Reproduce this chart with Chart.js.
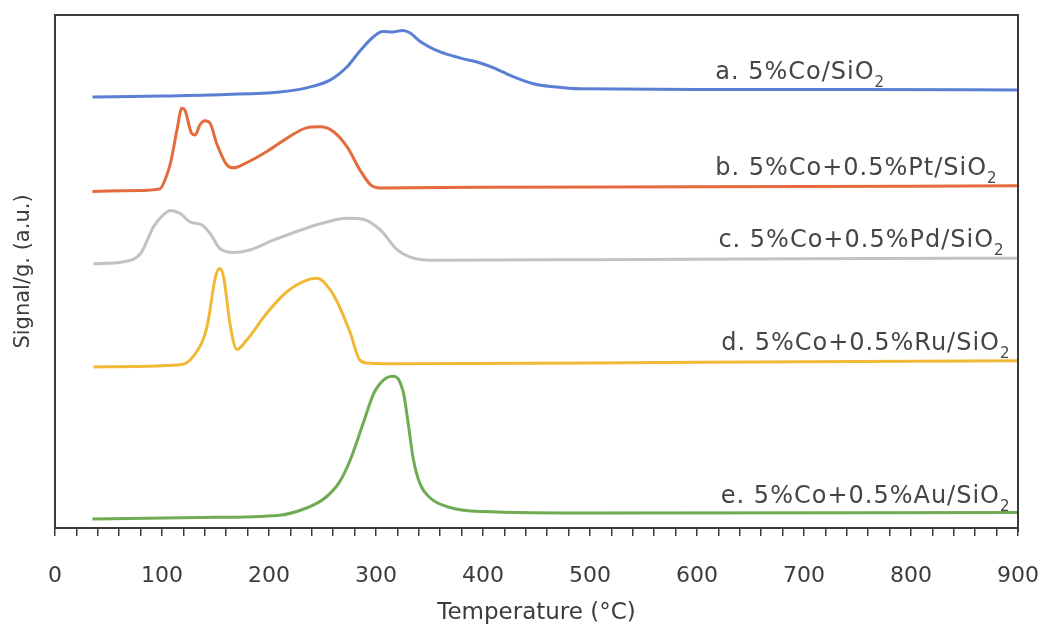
<!DOCTYPE html>
<html>
<head>
<meta charset="utf-8">
<title>TPR profiles</title>
<script src="https://cdn.jsdelivr.net/npm/chart.js@4"></script>
<style>
  html, body { margin: 0; padding: 0; background: #fff; }
  #wrap { width: 1043px; height: 629px; position: relative; }
</style>
</head>
<body>
<div id="wrap"><canvas id="tpr"></canvas></div>
<script>
(function () {
  "use strict";

  /* ── temperature (°C) and signal readings, one pair of arrays per catalyst ── */
  const tempCo = [35, 100, 160, 210, 235, 257, 273, 285, 299, 306, 316, 325, 332, 341, 360, 379, 398, 410, 428, 447, 466, 491, 600, 750, 900];
  const sigCo  = [84.0, 84.2, 84.5, 85.0, 85.8, 87.3, 89.9, 93.0, 96.0, 96.8, 96.7, 97.0, 96.5, 94.9, 92.8, 91.6, 90.6, 89.7, 88.0, 86.6, 86.0, 85.6, 85.5, 85.5, 85.4];

  const tempPt = [35, 80, 98, 104, 108, 114, 118.5, 121.5, 127.5, 131, 135.5, 140, 145, 151, 160.5, 167, 179, 198, 217, 235, 248, 260, 273, 285, 295, 304, 400, 600, 900];
  const sigPt  = [65.6, 65.8, 66.1, 68.5, 71.2, 77.6, 81.8, 81.4, 77.0, 76.6, 78.6, 79.4, 78.9, 75.0, 70.8, 70.2, 71.2, 73.4, 76.0, 78.0, 78.2, 77.3, 74.3, 69.8, 66.9, 66.3, 66.4, 66.5, 66.7];

  const tempPd = [36, 64, 80, 92, 100, 108, 117, 126, 137, 145, 154, 167, 182, 204, 226, 248, 273, 288, 304, 320, 332, 351, 500, 700, 900];
  const sigPd  = [51.5, 51.9, 53.5, 58.7, 60.8, 61.9, 61.3, 59.7, 59.1, 57.4, 54.5, 53.7, 54.2, 56.1, 57.8, 59.3, 60.4, 60.2, 58.1, 54.2, 52.8, 52.2, 52.3, 52.5, 52.6];

  const tempRu = [36, 117, 129, 142, 150, 154, 157.5, 164, 170, 179, 198, 217, 238, 245, 251, 263, 276, 285, 295, 323, 600, 900];
  const sigRu  = [31.4, 31.8, 33.4, 39.2, 49.0, 50.6, 49.0, 39.2, 34.8, 36.6, 41.9, 46.1, 48.5, 48.7, 48.0, 44.4, 38.0, 32.7, 32.1, 32.0, 32.3, 32.6];

  const tempAu = [35, 136, 210, 235, 252, 266, 276, 288, 298, 304, 310, 316, 321, 326, 330, 335, 341, 351, 366, 398, 510, 900];
  const sigAu  = [1.75, 2.05, 2.5, 3.9, 5.8, 9.0, 13.3, 20.4, 26.3, 28.2, 29.3, 29.6, 29.0, 26.0, 20.5, 13.3, 8.7, 5.8, 4.2, 3.2, 2.9, 3.0];

  const seriesNames = ["a. 5%Co/SiO", "b. 5%Co+0.5%Pt/SiO", "c. 5%Co+0.5%Pd/SiO", "d. 5%Co+0.5%Ru/SiO", "e. 5%Co+0.5%Au/SiO"];
  const xTicks = [0, 100, 200, 300, 400, 500, 600, 700, 800, 900];

  const COLORS = ["#5a7fd3", "#e36b3d", "#c2c2c2", "#f0b935", "#6fab52"];
  const FONT = "'DejaVu Sans', sans-serif";
  const AXIS = "#3a3a3a";

  function pairs(xs, ys) {
    return xs.map(function (x, i) { return { x: x, y: ys[i] }; });
  }

  function line(label, xs, ys, color) {
    return {
      label: label,
      data: pairs(xs, ys),
      borderColor: color,
      borderWidth: 3,
      pointRadius: 0,
      fill: false,
      cubicInterpolationMode: "monotone",
    };
  }

  /* ── in-plot curve labels, each ending in a subscript "2" ── */
  const labelPlacement = [
    { t: 617, v: 87.5, align: "left" },
    { t: 617, v: 68.8, align: "left" },
    { t: 620, v: 54.8, align: "left" },
    { t: 893, v: 34.7, align: "right" },
    { t: 893, v: 4.9, align: "right" },
  ];

  const curveLabels = {
    id: "curveLabels",
    afterDatasetsDraw: function (chart) {
      const ctx = chart.ctx;
      const xs = chart.scales.x, ys = chart.scales.y;
      ctx.save();
      ctx.fillStyle = "#454545";
      ctx.textBaseline = "alphabetic";
      ctx.textAlign = "left";
      if ("letterSpacing" in ctx) ctx.letterSpacing = "1px";
      seriesNames.forEach(function (name, i) {
        const p = labelPlacement[i];
        ctx.font = "24px " + FONT;
        const wMain = ctx.measureText(name).width;
        ctx.font = "15px " + FONT;
        const wSub = ctx.measureText("2").width;
        let x = xs.getPixelForValue(p.t);
        const y = ys.getPixelForValue(p.v);
        if (p.align === "right") x -= wMain + wSub;
        ctx.font = "24px " + FONT;
        ctx.fillText(name, x, y);
        ctx.font = "15px " + FONT;
        ctx.fillText("2", x + wMain, y + 8);
      });
      ctx.restore();
    },
  };

  /* ── closes the plot box on the top and right ── */
  const frame = {
    id: "frame",
    afterDraw: function (chart) {
      const a = chart.chartArea, ctx = chart.ctx;
      ctx.save();
      ctx.strokeStyle = AXIS;
      ctx.lineWidth = 2;
      ctx.beginPath();
      ctx.moveTo(a.left, a.top);
      ctx.lineTo(a.right, a.top);
      ctx.lineTo(a.right, a.bottom + 4);
      ctx.stroke();
      ctx.restore();
    },
  };

  new Chart(document.getElementById("tpr").getContext("2d"), {
    type: "line",
    data: {
      datasets: [
        line(seriesNames[0], tempCo, sigCo, COLORS[0]),
        line(seriesNames[1], tempPt, sigPt, COLORS[1]),
        line(seriesNames[2], tempPd, sigPd, COLORS[2]),
        line(seriesNames[3], tempRu, sigRu, COLORS[3]),
        line(seriesNames[4], tempAu, sigAu, COLORS[4]),
      ],
    },
    plugins: [curveLabels, frame],
    options: {
      responsive: true,
      maintainAspectRatio: false,
      animation: false,
      devicePixelRatio: 1,
      layout: { padding: { top: 15, right: 25, left: 0, bottom: 0 } },
      plugins: {
        legend: { display: false },
        tooltip: { enabled: false },
      },
      scales: {
        x: {
          type: "linear",
          min: 0,
          max: 900,
          afterFit: function (scale) {
            // let the end labels hang past the plot box instead of shrinking it
            scale.height = 101;
            scale.paddingLeft = 0;
            scale.paddingRight = 0;
          },
          ticks: {
            stepSize: 20,
            autoSkip: false,
            maxRotation: 0,
            padding: 27,
            color: "#3c3c3c",
            font: { family: FONT, size: 22 },
            callback: function (v) { return xTicks.indexOf(v) >= 0 ? String(v) : ""; },
          },
          grid: { drawOnChartArea: false, drawTicks: true, tickLength: 8, color: AXIS, lineWidth: 1.5 },
          border: { display: true, color: AXIS, width: 2 },
          title: {
            display: true,
            text: "Temperature (°C)",
            color: "#3c3c3c",
            font: { family: FONT, size: 23 },
            padding: { top: 0, bottom: 2 },
          },
        },
        y: {
          min: 0,
          max: 100,
          afterFit: function (scale) { scale.width = 55; },
          ticks: { display: false },
          grid: { drawOnChartArea: false, drawTicks: false },
          border: { display: true, color: AXIS, width: 2 },
          title: {
            display: true,
            text: "Signal/g. (a.u.)",
            color: "#3c3c3c",
            font: { family: FONT, size: 21 },
            padding: { top: 11, bottom: 0 },
          },
        },
      },
    },
  });
})();
</script>
</body>
</html>
